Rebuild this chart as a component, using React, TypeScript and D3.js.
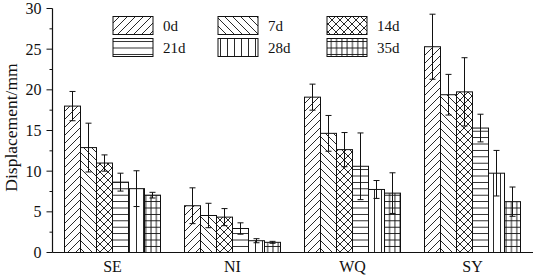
import React from 'react';
import * as d3 from 'd3';

const categories = ['SE', 'NI', 'WQ', 'SY'];
const seriesNames = ['0d', '7d', '14d', '21d', '28d', '35d'];

const v0d = [18.0, 5.75, 19.1, 25.3];
const v7d = [12.9, 4.55, 14.65, 19.4];
const v14d = [11.0, 4.35, 12.65, 19.75];
const v21d = [8.65, 2.95, 10.6, 15.3];
const v28d = [7.85, 1.45, 7.75, 9.75];
const v35d = [7.05, 1.25, 7.3, 6.25];

const e0d = [1.8, 2.2, 1.6, 4.0];
const e7d = [3.0, 1.5, 2.2, 2.5];
const e14d = [1.0, 1.05, 2.1, 4.2];
const e21d = [1.1, 0.7, 4.1, 1.7];
const e28d = [2.2, 0.25, 1.1, 2.8];
const e35d = [0.35, 0.12, 2.5, 1.8];

const yTicks = [0, 5, 10, 15, 20, 25, 30];
const yMinorTicks = [2.5, 7.5, 12.5, 17.5, 22.5, 27.5];

const values = [v0d, v7d, v14d, v21d, v28d, v35d];
const errors = [e0d, e7d, e14d, e21d, e28d, e35d];
const patternIds = ['p0', 'p7', 'p14', 'p21', 'p28', 'p35'];

const W = 534;
const H = 277;
const FONT = '"Liberation Serif", "Times New Roman", serif';

export default function App() {
  const x = d3.scaleBand<string>().domain(categories).range([52.5, 532.5]).paddingInner(0.2).paddingOuter(0.1);
  const xi = d3.scaleBand<string>().domain(seriesNames).range([0, x.bandwidth()]).padding(0);
  const y = d3.scaleLinear().domain([0, 30]).range([252.5, 8.5]);
  const axisX = 52.5;

  const legendCols = [113, 218, 327];
  const legendRows = [16.5, 38.5];

  return (
    <div style={{ position: 'absolute', left: 0, top: 0 }}>
      <svg width={W} height={H} style={{ display: 'block', background: '#fff' }}>
        <defs>
          <pattern id="p0" patternUnits="userSpaceOnUse" width={8} height={8}>
            <path d="M-2,2 L2,-2 M0,8 L8,0 M6,10 L10,6" stroke="#111" strokeWidth={0.9} />
          </pattern>
          <pattern id="p7" patternUnits="userSpaceOnUse" width={8} height={8}>
            <path d="M-2,6 L2,10 M0,0 L8,8 M6,-2 L10,2" stroke="#111" strokeWidth={0.9} />
          </pattern>
          <pattern id="p14" patternUnits="userSpaceOnUse" width={8} height={8}>
            <path d="M-2,2 L2,-2 M0,8 L8,0 M6,10 L10,6 M-2,6 L2,10 M0,0 L8,8 M6,-2 L10,2" stroke="#111" strokeWidth={0.9} />
          </pattern>
          <pattern id="p21" patternUnits="userSpaceOnUse" width={10} height={6.4}>
            <path d="M0,3.2 L10,3.2" stroke="#111" strokeWidth={0.9} />
          </pattern>
          <pattern id="p28" patternUnits="userSpaceOnUse" width={7} height={10}>
            <path d="M3.5,0 L3.5,10" stroke="#111" strokeWidth={0.9} />
          </pattern>
          <pattern id="p35" patternUnits="userSpaceOnUse" width={5.3} height={6.4}>
            <path d="M0,3.2 L5.3,3.2 M2.65,0 L2.65,6.4" stroke="#111" strokeWidth={0.9} />
          </pattern>
        </defs>

        {categories.map((c, ci) => (
          <g key={c}>
            {seriesNames.map((s, si) => {
              const v = values[si][ci];
              const bx = (x(c) as number) + (xi(s) as number);
              const bw = xi.bandwidth();
              return (
                <g key={s}>
                  <rect x={bx} y={y(v)} width={bw} height={y(0) - y(v)} fill="#fff" />
                  <rect x={bx} y={y(v)} width={bw} height={y(0) - y(v)} fill={`url(#${patternIds[si]})`} stroke="#111" strokeWidth={1} />
                </g>
              );
            })}
          </g>
        ))}

        {categories.map((c, ci) => (
          <g key={c + 'e'}>
            {seriesNames.map((s, si) => {
              const v = values[si][ci];
              const e = errors[si][ci];
              const cx = (x(c) as number) + (xi(s) as number) + xi.bandwidth() / 2;
              const cap = 3;
              return (
                <g key={s} stroke="#111" strokeWidth={1}>
                  <line x1={cx} x2={cx} y1={y(v + e)} y2={y(v - e)} />
                  <line x1={cx - cap} x2={cx + cap} y1={y(v + e)} y2={y(v + e)} />
                  <line x1={cx - cap} x2={cx + cap} y1={y(v - e)} y2={y(v - e)} />
                </g>
              );
            })}
          </g>
        ))}

        <line x1={axisX} x2={533} y1={y(0)} y2={y(0)} stroke="#111" strokeWidth={1.2} />
        {categories.map((c) => (
          <text key={c} x={(x(c) as number) + x.bandwidth() / 2} y={272} textAnchor="middle" fontFamily={FONT} fontSize={16} fill="#111">
            {c}
          </text>
        ))}

        <line x1={axisX} x2={axisX} y1={y(30)} y2={y(0)} stroke="#111" strokeWidth={1.2} />
        {yTicks.map((t) => (
          <g key={t}>
            <line x1={axisX - 6} x2={axisX} y1={y(t)} y2={y(t)} stroke="#111" strokeWidth={1} />
            <text x={axisX - 11} y={y(t)} dy="0.35em" textAnchor="end" fontFamily={FONT} fontSize={16} fill="#111">
              {t}
            </text>
          </g>
        ))}
        {yMinorTicks.map((t) => (
          <line key={t} x1={axisX - 3} x2={axisX} y1={y(t)} y2={y(t)} stroke="#111" strokeWidth={1} />
        ))}
        <text transform={`translate(17,127.5) rotate(-90)`} textAnchor="middle" fontFamily={FONT} fontSize={17.5} fill="#111">
          Displacement/mm
        </text>

        {seriesNames.map((s, si) => {
          const col = si % 3;
          const row = Math.floor(si / 3);
          const lx = legendCols[col];
          const ly = legendRows[row];
          return (
            <g key={s}>
              <rect x={lx} y={ly} width={40} height={18} fill="#fff" />
              <rect x={lx} y={ly} width={40} height={18} fill={`url(#${patternIds[si]})`} stroke="#111" strokeWidth={1} />
              <text x={lx + 50} y={ly + 9} dy="0.35em" fontFamily={FONT} fontSize={15} fill="#111">
                {s}
              </text>
            </g>
          );
        })}
      </svg>
    </div>
  );
}
